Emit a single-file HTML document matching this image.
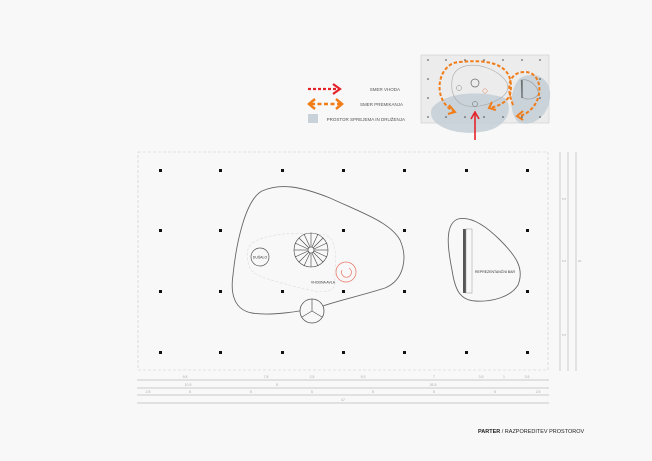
<!DOCTYPE html>
<html><head><meta charset="utf-8"><style>
html,body{margin:0;padding:0;background:#f8f8f8;}
svg{display:block;font-family:"Liberation Sans",sans-serif;}
</style></head><body>
<svg width="652" height="461" viewBox="0 0 652 461" xmlns="http://www.w3.org/2000/svg">
<rect width="652" height="461" fill="#f8f8f8"/>
<!-- legend -->
<line x1="308" y1="89" x2="338" y2="89" stroke="#e5242a" stroke-width="2.2" stroke-dasharray="3,2"/>
<polyline points="333,84 340,89 333,94" fill="none" stroke="#e5242a" stroke-width="2.2"/>
<text x="400" y="91" font-size="4.5" fill="#555" text-anchor="end">SMER VHODA</text>
<line x1="311" y1="104" x2="340" y2="104" stroke="#f07d1a" stroke-width="2.5" stroke-dasharray="4,2.5"/>
<polyline points="315,99 309,104 315,109" fill="none" stroke="#f07d1a" stroke-width="2.5"/>
<polyline points="336,99 342,104 336,109" fill="none" stroke="#f07d1a" stroke-width="2.5"/>
<text x="403" y="106" font-size="4.5" fill="#555" text-anchor="end">SMER PREMIKANJA</text>
<rect x="308" y="114" width="10" height="9" fill="#c8d2d8"/>
<text x="405" y="121" font-size="4.5" fill="#555" text-anchor="end">PROSTOR SPREJEMA IN DRUŽENJA</text>
<!-- thumbnail -->
<rect x="421" y="55" width="128" height="68" fill="#ececec" stroke="#ccc" stroke-width="0.6"/>
<path d="M432,108 C445,92 480,90 505,98 C515,110 505,130 480,132 C455,136 425,125 432,108Z" fill="#c3cfd6" opacity="0.85"/>
<path d="M520,78 C535,70 552,78 550,98 C548,118 530,128 518,122 C508,112 510,88 520,78Z" fill="#c3cfd6" opacity="0.85"/>
<path d="M460,68 C475,60 500,70 507,83 C512,95 495,103 480,106 C465,108 455,104 452,90 C451,78 453,72 460,68Z" fill="none" stroke="#aaa" stroke-width="0.6"/>
<path d="M521,80 C530,78 540,88 538,95 C533,100 526,100 522,97Z" fill="none" stroke="#999" stroke-width="0.6"/>
<line x1="522" y1="80" x2="522" y2="98" stroke="#444" stroke-width="1"/>
<circle cx="475" cy="83" r="4" fill="none" stroke="#666" stroke-width="0.7"/>
<circle cx="459" cy="88" r="2.5" fill="none" stroke="#888" stroke-width="0.5"/>
<circle cx="485" cy="91" r="2.2" fill="none" stroke="#e08060" stroke-width="0.5"/>
<circle cx="475" cy="104" r="2.5" fill="none" stroke="#666" stroke-width="0.5"/>
<path d="M455,112 C430,100 438,62 460,62 C500,58 515,70 510,95 C506,103 498,106 490,108" fill="none" stroke="#f07d1a" stroke-width="2" stroke-dasharray="3.5,2"/>
<polyline points="449,105 455,112 448,114" fill="none" stroke="#f07d1a" stroke-width="2"/>
<polyline points="492,102 489,108 496,110" fill="none" stroke="#f07d1a" stroke-width="2"/>
<path d="M513,105 C505,85 510,72 525,72 C545,72 545,108 520,116" fill="none" stroke="#f07d1a" stroke-width="2" stroke-dasharray="3.5,2"/>
<polyline points="523,111 517,116 523,120" fill="none" stroke="#f07d1a" stroke-width="2"/>
<line x1="475" y1="140" x2="475" y2="114" stroke="#e5242a" stroke-width="1.6"/>
<polyline points="471,119 475,112 479,119" fill="none" stroke="#e5242a" stroke-width="1.6"/>
<g fill="#444">
<circle cx="428" cy="60" r="0.8"/><circle cx="446" cy="60" r="0.8"/><circle cx="465" cy="60" r="0.8"/><circle cx="484" cy="60" r="0.8"/><circle cx="503" cy="60" r="0.8"/><circle cx="522" cy="60" r="0.8"/><circle cx="540" cy="60" r="0.8"/>
<circle cx="428" cy="79" r="0.8"/><circle cx="540" cy="79" r="0.8"/><circle cx="428" cy="98" r="0.8"/><circle cx="540" cy="98" r="0.8"/>
<circle cx="428" cy="117" r="0.8"/><circle cx="446" cy="117" r="0.8"/><circle cx="465" cy="117" r="0.8"/><circle cx="484" cy="117" r="0.8"/><circle cx="503" cy="117" r="0.8"/><circle cx="522" cy="117" r="0.8"/><circle cx="540" cy="117" r="0.8"/>
</g>
<!-- plan border -->
<rect x="138" y="152" width="410" height="218" fill="none" stroke="#ccc" stroke-width="0.6" stroke-dasharray="3,2"/>
<!-- columns -->
<g fill="#111">
<rect x="159" y="169" width="3" height="3"/><rect x="219" y="169" width="3" height="3"/><rect x="281" y="169" width="3" height="3"/><rect x="342" y="169" width="3" height="3"/><rect x="403" y="169" width="3" height="3"/><rect x="465" y="169" width="3" height="3"/><rect x="526" y="169" width="3" height="3"/>
<rect x="159" y="229" width="3" height="3"/><rect x="219" y="229" width="3" height="3"/><rect x="342" y="229" width="3" height="3"/><rect x="403" y="229" width="3" height="3"/><rect x="526" y="229" width="3" height="3"/>
<rect x="159" y="290" width="3" height="3"/><rect x="219" y="290" width="3" height="3"/><rect x="281" y="290" width="3" height="3"/><rect x="342" y="290" width="3" height="3"/><rect x="403" y="290" width="3" height="3"/><rect x="526" y="290" width="3" height="3"/>
<rect x="159" y="351" width="3" height="3"/><rect x="219" y="351" width="3" height="3"/><rect x="281" y="351" width="3" height="3"/><rect x="342" y="351" width="3" height="3"/><rect x="403" y="351" width="3" height="3"/><rect x="465" y="351" width="3" height="3"/><rect x="526" y="351" width="3" height="3"/>
</g>
<!-- main blob -->
<path d="M262,191 C280,183 300,186 330,198 C360,212 390,222 400,240 C408,258 404,280 385,288 C360,296 340,300 323,306 C300,312 270,316 252,313 C235,310 230,295 233,275 C236,245 245,200 262,191Z" fill="none" stroke="#666" stroke-width="0.9"/>
<path d="M252,243 C270,232 300,232 325,235 C340,240 334,262 335,285 C330,295 318,292 300,288 C280,282 255,278 250,268 C246,258 246,248 252,243Z" fill="none" stroke="#ddd" stroke-width="0.6" stroke-dasharray="3,1.5"/>
<circle cx="260" cy="257" r="9" fill="#f8f8f8" stroke="#555" stroke-width="0.7"/>
<text x="260" y="258.5" font-size="3.5" fill="#333" text-anchor="middle">DUŠALO</text>
<g stroke="#444" stroke-width="0.6" fill="none">
<circle cx="311" cy="250" r="17"/><circle cx="311" cy="250" r="3"/>
<line x1="311" y1="233" x2="311" y2="247"/><line x1="311" y1="253" x2="311" y2="267"/>
<line x1="294" y1="250" x2="308" y2="250"/><line x1="314" y1="250" x2="328" y2="250"/>
<line x1="299" y1="238" x2="309" y2="248"/><line x1="313" y1="252" x2="323" y2="262"/>
<line x1="323" y1="238" x2="313" y2="248"/><line x1="309" y1="252" x2="299" y2="262"/>
<line x1="304" y1="234" x2="310" y2="247"/><line x1="318" y1="234" x2="312" y2="247"/>
<line x1="295" y1="243" x2="308" y2="249"/><line x1="327" y1="243" x2="314" y2="249"/>
<line x1="295" y1="257" x2="308" y2="251"/><line x1="327" y1="257" x2="314" y2="251"/>
<line x1="304" y1="266" x2="310" y2="253"/><line x1="318" y1="266" x2="312" y2="253"/>
</g>
<circle cx="346" cy="272" r="10" fill="none" stroke="#e87060" stroke-width="0.7"/>
<path d="M342,270 A5,5 0 1 0 349,268" fill="none" stroke="#e87060" stroke-width="0.7"/>
<text x="323" y="283.5" font-size="3.5" fill="#333" text-anchor="middle">VHODNA AVLA</text>
<circle cx="312" cy="311" r="12" fill="#f8f8f8" stroke="#555" stroke-width="0.8"/>
<g stroke="#555" stroke-width="0.7"><line x1="312" y1="311" x2="312" y2="299"/><line x1="312" y1="311" x2="302" y2="317"/><line x1="312" y1="311" x2="322" y2="317"/></g>
<!-- right blob -->
<path d="M458,219 C470,216 485,225 500,240 C515,255 525,268 518,285 C510,298 490,302 475,301 C460,300 455,290 452,270 C448,250 444,224 458,219Z" fill="none" stroke="#666" stroke-width="0.9"/>
<rect x="463" y="229" width="3" height="64" fill="#555"/>
<rect x="466" y="229" width="6" height="64" fill="none" stroke="#999" stroke-width="0.5"/>
<text x="475" y="273" font-size="3.5" fill="#333">REPREZENTANČNI BAR</text>
<!-- right dims -->
<g stroke="#bbb" stroke-width="0.7"><line x1="560" y1="152" x2="560" y2="371"/><line x1="568" y1="152" x2="568" y2="371"/><line x1="576" y1="152" x2="576" y2="371"/></g>
<g font-size="3" fill="#aaa"><text x="562" y="200">5.5</text><text x="562" y="262">6.5</text><text x="562" y="336">5.5</text><text x="578" y="262">20</text></g>
<!-- bottom dims -->
<g stroke="#bbb" stroke-width="0.7"><line x1="137" y1="380" x2="549" y2="380"/><line x1="137" y1="388" x2="549" y2="388"/><line x1="137" y1="395" x2="549" y2="395"/><line x1="137" y1="403" x2="549" y2="403"/></g>
<g font-size="3.5" fill="#aaa" text-anchor="middle">
<text x="185" y="378">9.8</text><text x="266" y="378">7.8</text><text x="312" y="378">2.5</text><text x="363" y="378">9.3</text><text x="434" y="378">7</text><text x="481" y="378">3.5</text><text x="504" y="378">1</text><text x="527" y="378">3.5</text>
<text x="188" y="386">10.5</text><text x="277" y="386">5</text><text x="433" y="386">26.5</text>
<text x="148" y="393">2.5</text><text x="190" y="393">5</text><text x="251" y="393">5</text><text x="312" y="393">5</text><text x="373" y="393">5</text><text x="434" y="393">5</text><text x="495" y="393">5</text><text x="538" y="393">2.5</text>
<text x="343" y="401">47</text></g>
<text x="478" y="433" font-size="5.5" fill="#222"><tspan font-weight="bold">PARTER</tspan> / RAZPOREDITEV PROSTOROV</text>
</svg>
</body></html>
